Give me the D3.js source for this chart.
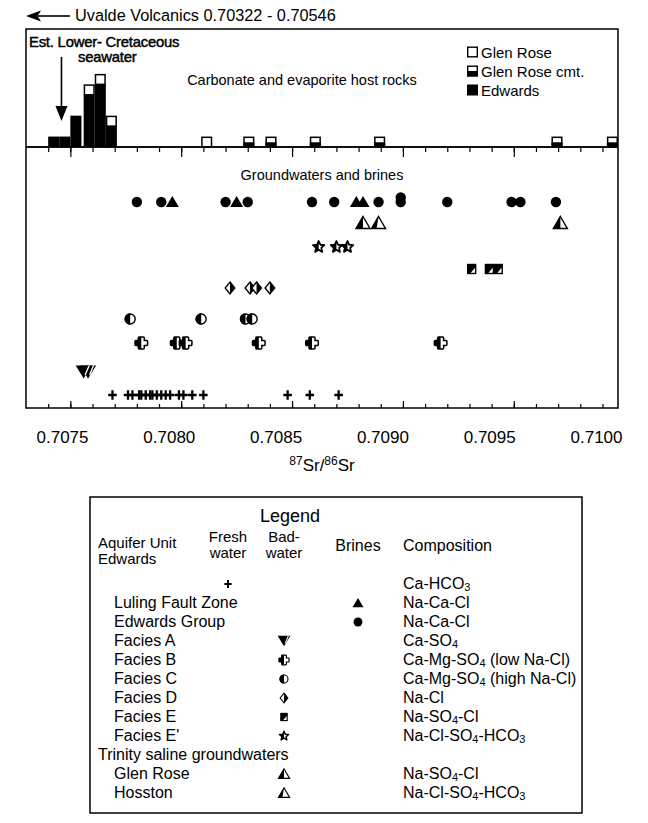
<!DOCTYPE html>
<html><head><meta charset="utf-8">
<script src="https://cdn.jsdelivr.net/npm/d3@7/dist/d3.min.js"></script>
<style>
body{margin:0;background:#fff}
svg{display:block}
text{font-family:"Liberation Sans",Arial,Helvetica,sans-serif;fill:#000}
</style>
</head><body>
<svg id="c" width="648" height="823"></svg>
<script>
// ---------------- DATA ----------------
const titleText = "Uvalde Volcanics 0.70322 - 0.70546";
const xTickValues = [0.7075, 0.7080, 0.7085, 0.7090, 0.7095, 0.7100];
const xTickLabels = ["0.7075", "0.7080", "0.7085", "0.7090", "0.7095", "0.7100"];
const minorTickValues = d3.range(0, 26).map(i => +(0.7074 + i * 0.0001).toFixed(4));

// host-rock histogram (bin start, width 0.00005)
const binWidth = 0.00005;
const histBins = [0.70740, 0.70745, 0.70750, 0.70756, 0.70761, 0.70766, 0.70809, 0.70828, 0.70838, 0.70858, 0.70887, 0.70967, 0.70992];
const edwardsCounts     = [1, 1, 3, 5, 6, 2, 0, 0, 0, 0, 0, 0, 0];
const glenRoseCounts    = [0, 0, 0, 1, 1, 1, 1, 0, 0, 0, 0, 0, 0];
const glenRoseCmtCounts = [0, 0, 0, 0, 0, 0, 0, 1, 1, 1, 1, 1, 1];
const seawaterEst = 0.70746;

// groundwaters and brines (87Sr/86Sr)
const edwardsGroupBrine = [0.70780, 0.70791, 0.70820, 0.70830, 0.70859, 0.70869, 0.70889, 0.70899, 0.70899, 0.70920, 0.70949, 0.70953, 0.70969];
const lulingBrine       = [0.70796, 0.70825, 0.70879, 0.70882];
const glenRoseTrinity   = [0.70882, 0.70971];
const hosstonTrinity    = [0.70889];
const faciesEprime      = [0.70862, 0.70870, 0.70875];
const faciesE           = [0.70931, 0.70939, 0.70943];
const faciesD           = [0.70822, 0.70831, 0.70834, 0.70840];
const faciesC           = [0.70777, 0.70809, 0.70829, 0.70832];
const faciesB           = [0.70782, 0.70798, 0.70802, 0.70835, 0.70859, 0.70917];
const faciesA           = [0.70756, 0.70758];
const freshWater        = [0.70769, 0.70776, 0.70778, 0.70781, 0.70782, 0.70784, 0.70786, 0.70787, 0.70789, 0.70791,
                           0.70793, 0.70795, 0.70799, 0.70801, 0.70805, 0.70810, 0.70848, 0.70858, 0.70871];

const rowNames = ["brine", "trinity", "faciesEprime", "faciesE", "faciesD", "faciesC", "faciesB", "faciesA", "fresh"];

const legendRows = [
  {label: "", indent: 0, col: "fresh", sym: "plus", comp: ["Ca-HCO", "3", ""]},
  {label: "Luling Fault Zone", indent: 1, col: "brine", sym: "triFull", comp: ["Na-Ca-Cl"]},
  {label: "Edwards Group", indent: 1, col: "brine", sym: "circle", comp: ["Na-Ca-Cl"]},
  {label: "Facies A", indent: 1, col: "bad", sym: "triDown", comp: ["Ca-SO", "4", ""]},
  {label: "Facies B", indent: 1, col: "bad", sym: "crossB", comp: ["Ca-Mg-SO", "4", " (low Na-Cl)"]},
  {label: "Facies C", indent: 1, col: "bad", sym: "halfCircle", comp: ["Ca-Mg-SO", "4", " (high Na-Cl)"]},
  {label: "Facies D", indent: 1, col: "bad", sym: "diamond", comp: ["Na-Cl"]},
  {label: "Facies E", indent: 1, col: "bad", sym: "squareE", comp: ["Na-SO", "4", "-Cl"]},
  {label: "Facies E'", indent: 1, col: "bad", sym: "star", comp: ["Na-Cl-SO", "4", "-HCO", "3", ""]},
  {label: "Trinity saline groundwaters", indent: 0, col: null, sym: null, comp: []},
  {label: "Glen Rose", indent: 1, col: "bad", sym: "triGlen", comp: ["Na-SO", "4", "-Cl"]},
  {label: "Hosston", indent: 1, col: "bad", sym: "triHoss", comp: ["Na-Cl-SO", "4", "-HCO", "3", ""]}
];

// ---------------- LAYOUT ----------------
const svg = d3.select("#c");
const L = 26, R = 618, T = 29, HB = 147, B = 408;
const x = d3.scaleLinear().domain([0.7073, 0.70997]).range([L, R]);
const xLabel = d3.scaleLinear().domain([0.7075, 0.7100]).range([62, 596]);
const yH = d3.scaleLinear().domain([0, 11.3]).range([HB, T]);
const yRow = d3.scaleOrdinal().domain(rowNames).range([202, 223, 247, 269, 288, 319, 343, 372, 395]);

// ---------------- SYMBOLS ----------------
function drawSym(g, type, cx, cy, s = 1) {
  const k = g.append("g").attr("transform", `translate(${cx},${cy}) scale(${s})`);
  if (type === "circle") {
    k.append("circle").attr("r", 5.2).attr("fill", "#000");
  } else if (type === "triFull") {
    k.append("path").attr("d", "M0,-6 L6.5,5 L-6.5,5Z").attr("fill", "#000");
  } else if (type === "triGlen" || type === "triHoss") {
    k.append("path").attr("d", "M0,-6.5 L7,5.5 L-7,5.5Z").attr("fill", "#fff").attr("stroke", "#000").attr("stroke-width", 1.4);
    const d = type === "triGlen" ? "M0,-6.5 L0,5.5 L-7,5.5Z" : "M0,-6.5 L-2,5.5 L-7,5.5Z";
    k.append("path").attr("d", d).attr("fill", "#000");
  } else if (type === "star") {
    const pts = d3.range(10).map(i => {
      const r = i % 2 === 0 ? 6 : 2.8, a = -Math.PI / 2 + i * Math.PI / 5;
      return [r * Math.cos(a), r * Math.sin(a)];
    });
    const p = "M" + pts.map(q => q.join(",")).join("L") + "Z";
    k.append("path").attr("d", p).attr("fill", "#fff").attr("stroke", "#000").attr("stroke-width", 1.8).attr("stroke-linejoin", "round");
    k.append("path").attr("d", "M0,-6 L0,2.5 L-3.6,4.8 L-2.6,0.9 L-5.7,-1.9 L-1.6,-1.9Z").attr("fill", "#000");
  } else if (type === "squareE") {
    k.append("rect").attr("x", -4).attr("y", -4.5).attr("width", 8).attr("height", 9).attr("fill", "#fff").attr("stroke", "#000").attr("stroke-width", 1.4);
    k.append("path").attr("d", "M-4,-4.5 L4,-4.5 L4,-2 L-1.5,4.5 L-4,4.5Z").attr("fill", "#000");
  } else if (type === "diamond") {
    k.append("path").attr("d", "M0,-6 L4.8,0 L0,6 L-4.8,0Z").attr("fill", "#fff").attr("stroke", "#000").attr("stroke-width", 1.4);
    k.append("path").attr("d", "M0,-6 L4.8,0 L0,6Z").attr("fill", "#000");
  } else if (type === "halfCircle") {
    k.append("circle").attr("r", 5).attr("fill", "#fff").attr("stroke", "#000").attr("stroke-width", 1.4);
    k.append("path").attr("d", "M0,-5.7 A5.7,5.7 0 0 0 0,5.7Z").attr("fill", "#000");
  } else if (type === "crossB") {
    const p = "M-2.2,-6 L2.2,-6 Q3,-6 3,-5 L3,-2.5 L5.5,-2.5 Q6.3,-2.5 6.3,-1.5 L6.3,1.5 Q6.3,2.5 5.5,2.5 L3,2.5 L3,5 Q3,6 2.2,6 L-2.2,6 Q-3,6 -3,5 L-3,2.5 L-5.5,2.5 Q-6.3,2.5 -6.3,1.5 L-6.3,-1.5 Q-6.3,-2.5 -5.5,-2.5 L-3,-2.5 L-3,-5 Q-3,-6 -2.2,-6Z";
    k.append("path").attr("d", p).attr("fill", "#fff").attr("stroke", "#000").attr("stroke-width", 1.5);
    k.append("path").attr("d", "M0,-6 L-2.2,-6 Q-3,-6 -3,-5 L-3,-2.5 L-5.5,-2.5 Q-6.3,-2.5 -6.3,-1.5 L-6.3,1.5 Q-6.3,2.5 -5.5,2.5 L-3,2.5 L-3,5 Q-3,6 -2.2,6 L0,6Z").attr("fill", "#000");
  } else if (type === "triDown") {
    k.append("path").attr("d", "M-8,-6.5 L8,-6.5 L0,6.5Z").attr("fill", "#000");
    k.append("path").attr("d", "M5.5,-6.5 L1.5,3").attr("stroke", "#fff").attr("stroke-width", 1.3);
  } else if (type === "plus") {
    k.append("path").attr("d", "M-4.3,0 L4.3,0 M0,-4.8 L0,4.8").attr("stroke", "#000").attr("stroke-width", 2.3);
  }
  return k;
}

// ---------------- TITLE ARROW ----------------
svg.append("path").attr("d", "M38,16 L70,16").attr("stroke", "#000").attr("stroke-width", 1.6);
svg.append("path").attr("d", "M26,16 L41,10.5 L37.5,16 L41,21.5Z").attr("fill", "#000");
svg.append("text").attr("x", 75).attr("y", 21).attr("font-size", 16.3).text(titleText);

// ---------------- FRAME ----------------
svg.append("rect").attr("x", L).attr("y", T).attr("width", R - L).attr("height", B - T)
  .attr("fill", "none").attr("stroke", "#000").attr("stroke-width", 1.5);

// ---------------- HISTOGRAM ----------------
const hist = svg.append("g");
histBins.forEach((b, i) => {
  const x0 = x(b), x1 = x(b + binWidth), w = x1 - x0;
  const e = edwardsCounts[i], gr = glenRoseCounts[i], gc = glenRoseCmtCounts[i];
  if (e > 0) hist.append("rect").attr("x", x0).attr("y", yH(e)).attr("width", w).attr("height", yH(0) - yH(e)).attr("fill", "#000");
  if (gr > 0) hist.append("rect").attr("x", x0 + 0.75).attr("y", yH(e + gr) + 0.75).attr("width", w - 1.5).attr("height", yH(e) - yH(e + gr) - 0.75)
      .attr("fill", "#fff").attr("stroke", "#000").attr("stroke-width", 1.5);
  if (gc > 0) {
    const top = yH(e + gr + gc), bot = yH(e + gr);
    hist.append("rect").attr("x", x0 + 0.75).attr("y", top + 0.75).attr("width", w - 1.5).attr("height", bot - top - 0.75)
      .attr("fill", "#fff").attr("stroke", "#000").attr("stroke-width", 1.5);
    hist.append("rect").attr("x", x0).attr("y", (top + bot) / 2 + 0.5).attr("width", w).attr("height", bot - (top + bot) / 2 - 0.5).attr("fill", "#000");
  }
});

// histogram baseline axis (ticks down)
const axH = svg.append("g").attr("transform", `translate(0,${HB})`);
axH.call(d3.axisBottom(x).tickValues(minorTickValues).tickSize(5).tickFormat(""));
axH.append("g").call(d3.axisBottom(x).tickValues(xTickValues.filter(v => v < 0.70997)).tickSize(10).tickFormat(""));
axH.selectAll(".domain").attr("d", `M${L},0H${R}`).attr("stroke-width", 1.5);
axH.selectAll("line").attr("stroke-width", 1.2);

// seawater annotation
const ann = {fs: 14.8, sw: 0.45};
svg.append("text").attr("x", 29).attr("y", 47).attr("font-size", ann.fs).attr("stroke", "#000").attr("stroke-width", ann.sw).attr("letter-spacing", -0.2).text("Est. Lower- Cretaceous");
svg.append("text").attr("x", 78).attr("y", 62).attr("font-size", ann.fs).attr("stroke", "#000").attr("stroke-width", ann.sw).attr("letter-spacing", -0.2).text("seawater");
svg.append("path").attr("d", `M${x(seawaterEst)},57 L${x(seawaterEst)},110`).attr("stroke", "#000").attr("stroke-width", 1.6);
svg.append("path").attr("d", `M${x(seawaterEst) - 6},106 L${x(seawaterEst) + 6},106 L${x(seawaterEst)},121Z`).attr("fill", "#000");

svg.append("text").attr("x", 302).attr("y", 85).attr("text-anchor", "middle").attr("font-size", 14.5).text("Carbonate and evaporite host rocks");

// histogram legend
const hl = [["Glen Rose", "gr"], ["Glen Rose cmt.", "gc"], ["Edwards", "ed"]];
hl.forEach((d, i) => {
  const yy = 52 + i * 19;
  const g = svg.append("g");
  if (d[1] === "ed") g.append("rect").attr("x", 467).attr("y", yy - 5.5).attr("width", 11).attr("height", 11).attr("fill", "#000");
  else {
    g.append("rect").attr("x", 467.7).attr("y", yy - 4.8).attr("width", 9.6).attr("height", 9.6).attr("fill", "#fff").attr("stroke", "#000").attr("stroke-width", 1.4);
    if (d[1] === "gc") g.append("rect").attr("x", 467).attr("y", yy).attr("width", 11).attr("height", 5.5).attr("fill", "#000");
  }
  svg.append("text").attr("x", 481).attr("y", yy + 5.5).attr("font-size", 15).text(d[0]);
});

// ---------------- GROUNDWATERS ----------------
svg.append("text").attr("x", 322).attr("y", 180).attr("text-anchor", "middle").attr("font-size", 14.5).text("Groundwaters and brines");

const pts = svg.append("g");
function plotSeries(vals, row, sym, reverse) {
  const seen = {};
  const list = reverse ? vals.slice().sort((a, b) => b - a) : vals;
  list.forEach(v => {
    const n = seen[v] = (seen[v] || 0) + 1;
    drawSym(pts, sym, x(v), yRow(row) - (n - 1) * 4.5);
  });
}
plotSeries(freshWater, "fresh", "plus");
plotSeries(faciesA, "faciesA", "triDown", true);
plotSeries(faciesB, "faciesB", "crossB");
plotSeries(faciesC, "faciesC", "halfCircle");
plotSeries(faciesD, "faciesD", "diamond");
plotSeries(faciesE, "faciesE", "squareE");
plotSeries(faciesEprime, "faciesEprime", "star");
plotSeries(glenRoseTrinity, "trinity", "triGlen");
plotSeries(hosstonTrinity, "trinity", "triHoss");
plotSeries(edwardsGroupBrine, "brine", "circle");
plotSeries(lulingBrine, "brine", "triFull");

// bottom axis (ticks inward)
const axB = svg.append("g").attr("transform", `translate(0,${B})`);
axB.call(d3.axisTop(x).tickValues(minorTickValues).tickSize(4).tickFormat(""));
axB.append("g").call(d3.axisTop(x).tickValues(xTickValues.filter(v => v < 0.70997)).tickSize(7).tickFormat(""));
axB.selectAll(".domain").remove();
axB.selectAll("line").attr("stroke-width", 1.2);

// tick labels
const lab = svg.append("g").attr("transform", `translate(0,${B + 35})`);
lab.call(d3.axisBottom(xLabel).tickValues(xTickValues).tickSize(0).tickFormat((d, i) => xTickLabels[i]));
lab.select(".domain").remove();
lab.selectAll("text").attr("font-size", 17).attr("font-family", "Liberation Sans, Arial, sans-serif").attr("dy", 0).attr("y", 0);

// axis title
const at = svg.append("text").attr("x", 322).attr("y", 471).attr("text-anchor", "middle").attr("font-size", 17);
at.append("tspan").attr("font-size", 12).attr("dy", -6).text("87");
at.append("tspan").attr("dy", 6).text("Sr/");
at.append("tspan").attr("font-size", 12).attr("dy", -6).text("86");
at.append("tspan").attr("dy", 6).text("Sr");

// ---------------- LEGEND ----------------
const LG = {x0: 90, x1: 582, y0: 497, y1: 813};
svg.append("rect").attr("x", LG.x0).attr("y", LG.y0).attr("width", LG.x1 - LG.x0).attr("height", LG.y1 - LG.y0)
  .attr("fill", "none").attr("stroke", "#000").attr("stroke-width", 1.5);
const fs = 16, hfs = 15;
svg.append("text").attr("x", 290).attr("y", 522).attr("text-anchor", "middle").attr("font-size", 18).text("Legend");
svg.append("text").attr("x", 98).attr("y", 548).attr("font-size", hfs).text("Aquifer Unit");
svg.append("text").attr("x", 98).attr("y", 564).attr("font-size", hfs).text("Edwards");
const colX = {fresh: 228, bad: 284, brine: 358};
[["Fresh", "water", colX.fresh], ["Bad-", "water", colX.bad]].forEach(d => {
  svg.append("text").attr("x", d[2]).attr("y", 542).attr("text-anchor", "middle").attr("font-size", hfs).text(d[0]);
  svg.append("text").attr("x", d[2]).attr("y", 558).attr("text-anchor", "middle").attr("font-size", hfs).text(d[1]);
});
svg.append("text").attr("x", colX.brine).attr("y", 551).attr("text-anchor", "middle").attr("font-size", fs).text("Brines");
svg.append("text").attr("x", 403).attr("y", 551).attr("font-size", fs).text("Composition");

legendRows.forEach((r, i) => {
  const yy = 589 + i * 19;
  if (r.label) svg.append("text").attr("x", 98 + r.indent * 16).attr("y", yy).attr("font-size", fs).text(r.label);
  if (r.sym) drawSym(svg, r.sym, colX[r.col], yy - 5, r.sym === "plus" || r.sym === "triFull" || r.sym === "circle" ? 0.85 : 0.8);
  if (r.comp.length) {
    const t = svg.append("text").attr("x", 403).attr("y", yy).attr("font-size", fs);
    r.comp.forEach((c, j) => {
      if (j % 2 === 1) t.append("tspan").attr("font-size", 11).attr("dy", 2).text(c);
      else t.append("tspan").attr("dy", j > 0 ? -2 : 0).text(c);
    });
  }
});
</script>
</body></html>
